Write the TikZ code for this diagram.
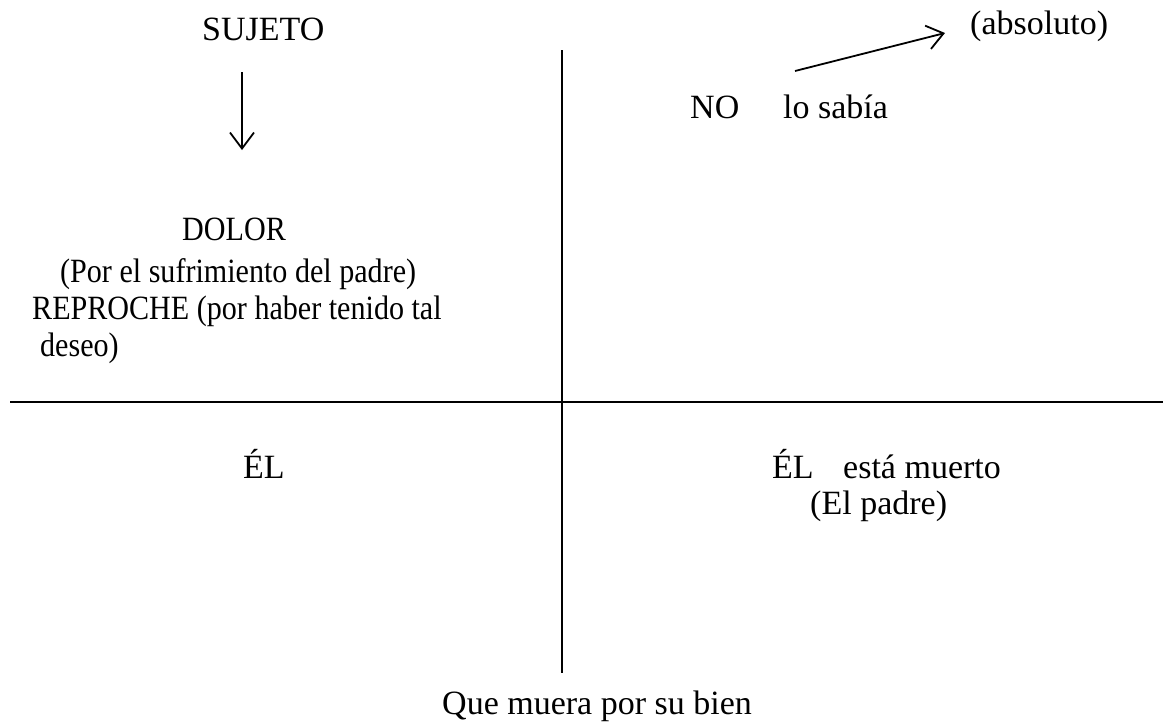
\documentclass[tikz,border=0pt]{standalone}
\usepackage{fontspec}
\setmainfont{Liberation Serif}
\newfontfamily\estrecha{Liberation Serif}[FakeStretch=0.885]
\usetikzlibrary{arrows.meta}

\begin{document}
\begin{tikzpicture}[x=1pt,y=-1pt,
	txt/.style={anchor=base west,inner sep=0pt,font=\fontsize{34}{39}\selectfont},
	angosto/.style={txt,font=\fontsize{34}{39}\estrecha},
	flecha/.style={line width=1.8pt,-{Straight Barb[length=16pt,width=24pt,line width=1.8pt]}},
	raya/.style={line width=2.2pt}]
	\useasboundingbox (0,0) rectangle (1163,724);
	% cuadrante superior izquierdo
	\node[txt] (sujeto) at (202,40) {SUJETO};
	\coordinate (f1a) at (242,72);
	\coordinate (f1b) at (242,150);
	\draw[flecha] (f1a) -- (f1b);
	\node[angosto] (dolor) at (182,240) {DOLOR};
	\node[angosto] (causa) at (60,282) {(Por el sufrimiento del padre)};
	\node[angosto] (reproche) at (32,319) {REPROCHE (por haber tenido tal};
	\node[angosto] (deseo) at (40,356) {deseo)};
	% cuadrante superior derecho
	\node[txt] (no) at (690,118) {NO};
	\node[txt] (sabia) at (783,118) {lo sabía};
	\node[txt] (absoluto) at (970,34) {(absoluto)};
	\coordinate (f2a) at (795,71);
	\coordinate (f2b) at (945,33);
	\draw[flecha] (f2a) -- (f2b);
	% cuadrantes inferiores
	\node[txt] (el) at (243,478) {ÉL};
	\node[txt] (el2) at (772,478) {ÉL};
	\node[txt] (muerto) at (843,478) {está muerto};
	\node[txt] (padre) at (810,514) {(El padre)};
	\node[txt] (bien) at (442,714) {Que muera por su bien};
	% ejes
	\coordinate (arriba) at (562,50);
	\coordinate (abajo) at (562,673);
	\coordinate (izq) at (10,402);
	\coordinate (der) at (1163,402);
	\draw[raya] (arriba) -- (abajo);
	\draw[raya] (izq) -- (der);
\end{tikzpicture}
\end{document}
